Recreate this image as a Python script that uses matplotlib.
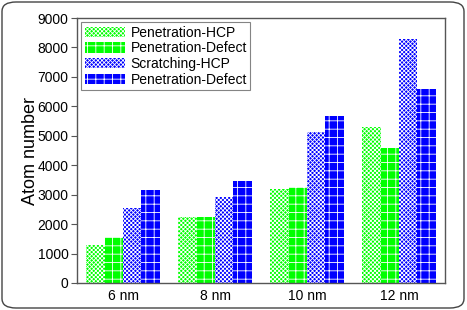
import matplotlib
matplotlib.use("Agg")
import matplotlib.pyplot as plt
import numpy as np
from matplotlib.patches import FancyBboxPatch

categories = ["6 nm", "8 nm", "10 nm", "12 nm"]
series_names = ["Penetration-HCP", "Penetration-Defect", "Scratching-HCP", "Penetration-Defect"]
pen_hcp = [1290, 2230, 3180, 5300]
pen_defect = [1570, 2240, 3260, 4580]
scr_hcp = [2540, 2930, 5130, 8280]
scr_defect = [3150, 3480, 5680, 6580]
series = [pen_hcp, pen_defect, scr_hcp, scr_defect]
colors = ["#00ff00", "#00ff00", "#0000ff", "#0000ff"]
hatches = ["xxxxxxxx", "++", "xxxxxxxx", "++"]
yticks = [0, 1000, 2000, 3000, 4000, 5000, 6000, 7000, 8000, 9000]

plt.rcParams['font.family'] = ['Liberation Sans', 'DejaVu Sans']
plt.rcParams['hatch.color'] = 'white'
plt.rcParams['hatch.linewidth'] = 0.6

fig = plt.figure(figsize=(4.67, 3.10), dpi=100)
ax = fig.add_axes([77/467, 1 - 283/310, 368/467, 265/310])

x = np.arange(len(categories))
w = 0.2
for i, (vals, c, h, name) in enumerate(zip(series, colors, hatches, series_names)):
    ax.bar(x + (i - 1.5) * w, vals, width=w, color=c, hatch=h, edgecolor='white',
           linewidth=0, label=name)

ax.set_xlim(-0.5, 3.5)
ax.set_ylim(0, 9000)
ax.set_yticks(yticks)
ax.set_xticks(x)
ax.set_xticklabels(categories)
ax.tick_params(axis='y', direction='out', length=4, width=0.8, color='#555555', labelsize=10, pad=2)
ax.tick_params(axis='x', length=0, labelsize=10, pad=4)
for s in ax.spines.values():
    s.set_color('#555555')
    s.set_linewidth(1.0)
ax.set_ylabel("Atom number", fontsize=13, labelpad=-1)

leg = ax.legend(loc='upper left', bbox_to_anchor=(0.0, 1.0), fontsize=10, frameon=True,
                fancybox=False, edgecolor='#666666', handlelength=2.9, handleheight=0.8,
                labelspacing=0.12, borderpad=0.25, handletextpad=0.4, borderaxespad=0.3)
leg.get_frame().set_linewidth(0.8)

frame = FancyBboxPatch((2/467, 2/310), 462/467, 306/310,
                       boxstyle="round,pad=0,rounding_size=0.03",
                       transform=fig.transFigure, fill=False, edgecolor='#444444', linewidth=1.0)
fig.patches.append(frame)

fig.savefig("out.png", dpi=100)
